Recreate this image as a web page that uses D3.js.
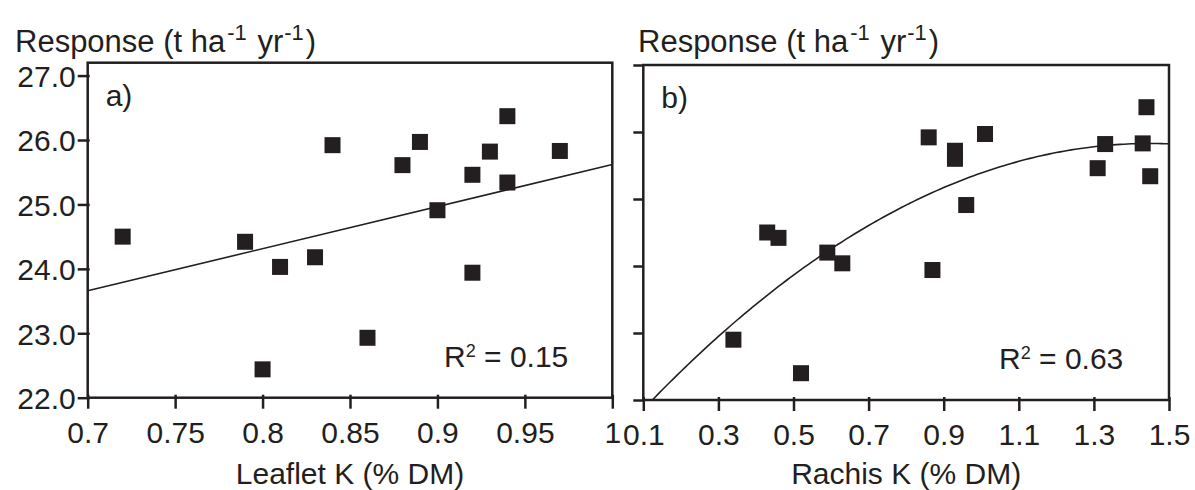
<!DOCTYPE html>
<html><head><meta charset="utf-8">
<script src="https://cdn.jsdelivr.net/npm/d3@7"></script>
<style>
html,body{margin:0;padding:0;background:#fff;}
svg text{font-family:"Liberation Sans",Arial,sans-serif;fill:#231f20;}
</style></head>
<body><svg id="chart" width="1195" height="490"></svg>
<script>
// ---- data ----
const leafletK   = [0.72, 0.79, 0.80, 0.81, 0.83, 0.84, 0.86, 0.88, 0.89, 0.90, 0.92, 0.92, 0.93, 0.94, 0.94, 0.97];
const responseA  = [24.50, 24.42, 22.44, 24.03, 24.18, 25.92, 22.93, 25.61, 25.97, 24.91, 25.46, 23.94, 25.82, 26.37, 25.34, 25.83];
const rachisK    = [0.34, 0.43, 0.46, 0.52, 0.59, 0.63, 0.86, 0.87, 0.93, 0.93, 0.96, 1.01, 1.31, 1.33, 1.43, 1.44, 1.45];
const responseB  = [22.90, 24.50, 24.42, 22.40, 24.20, 24.04, 25.92, 23.94, 25.72, 25.60, 24.91, 25.97, 25.46, 25.82, 25.83, 26.37, 25.34];
const trendA     = [[0.7, 23.66], [1.0, 25.62]];          // linear fit endpoints
const curveB     = [21.25, 6.316, -2.178];                 // quadratic fit: a + b x + c x^2
const yTicks     = [22, 23, 24, 25, 26, 27];
const yTickLabels= ["22.0", "23.0", "24.0", "25.0", "26.0", "27.0"];
const xTicksA    = [0.7, 0.75, 0.8, 0.85, 0.9, 0.95, 1.0];
const xTickLabelsA = ["0.7", "0.75", "0.8", "0.85", "0.9", "0.95", "1"];
const xTicksB    = [0.1, 0.3, 0.5, 0.7, 0.9, 1.1, 1.3, 1.5];
const xTickLabelsB = ["0.1", "0.3", "0.5", "0.7", "0.9", "1.1", "1.3", "1.5"];
const xTitleA = "Leaflet K (% DM)";
const xTitleB = "Rachis K (% DM)";
const r2A = "0.15", r2B = "0.63";

const svg = d3.select("#chart");
const ink = "#231f20";
const FS = 30;

function panel(opt){
  const g = svg.append("g");
  const x = d3.scaleLinear().domain(opt.xDomain).range([opt.left, opt.right]);
  const y = d3.scaleLinear().domain(opt.yDomain).range([opt.bottom, opt.top]);

  // y axis
  const ya = g.append("g").attr("transform", `translate(${opt.left},0)`)
    .call(d3.axisLeft(y).tickValues(yTicks).tickSizeInner(10).tickSizeOuter(0)
      .tickFormat((d,i)=> opt.yLabels ? yTickLabels[i] : ""));
  ya.select(".domain").remove();
  ya.selectAll(".tick line").attr("stroke", ink).attr("stroke-width", 2.5).attr("x2", -10).attr("x1", opt.yLabels ? 2 : 0);
  ya.selectAll(".tick text").attr("x", -12).attr("dy", "0.36em")
    .style("font-size", FS+"px").attr("fill", ink);

  // x axis
  const xa = g.append("g").attr("transform", `translate(0,${opt.bottom})`)
    .call(d3.axisBottom(x).tickValues(opt.xTicks).tickSizeInner(10).tickSizeOuter(0)
      .tickFormat((d,i)=> opt.xLabels[i]));
  xa.select(".domain").remove();
  xa.selectAll(".tick line").attr("stroke", ink).attr("stroke-width", 2.5).attr("y1", -3).attr("y2", 11);
  xa.selectAll(".tick text").attr("y", 45).attr("dy", 0)
    .style("font-size", FS+"px").attr("fill", ink);

  // frame
  g.append("rect").attr("x", opt.left).attr("y", opt.top)
    .attr("width", opt.right-opt.left).attr("height", opt.bottom-opt.top)
    .attr("fill", "none").attr("stroke", ink).attr("stroke-width", 2.5);

  // clip
  const cid = "clip"+opt.id;
  svg.append("clipPath").attr("id", cid).append("rect")
    .attr("x", opt.left).attr("y", opt.top).attr("width", opt.right-opt.left).attr("height", opt.bottom-opt.top);

  // fit line
  g.append("path").attr("clip-path", `url(#${cid})`)
    .attr("d", d3.line().x(d=>x(d[0])).y(d=>y(d[1]))(opt.fit))
    .attr("fill", "none").attr("stroke", ink).attr("stroke-width", 1.6);

  // points
  const s = 16;
  g.selectAll("rect.pt").data(opt.xs.map((v,i)=>[v, opt.ys[i]])).enter().append("rect")
    .attr("class","pt")
    .attr("x", d=>x(d[0])-s/2).attr("y", d=>y(d[1])-s/2)
    .attr("width", s).attr("height", s).attr("fill", ink);

  // panel letter
  g.append("text").attr("x", opt.left+18).attr("y", opt.top+43)
    .style("font-size", FS+"px").text(opt.letter);

  // R2
  const t = g.append("text").attr("x", opt.r2x).attr("y", opt.bottom-31).style("font-size", FS+"px");
  t.append("tspan").text("R");
  t.append("tspan").attr("dy", -10).style("font-size", "18px").text("2");
  t.append("tspan").attr("dy", 10).text(" = " + opt.r2);

  // y title
  const yt = g.append("text").attr("x", opt.titleX).attr("y", 52).style("font-size", "31px");
  yt.append("tspan").text("Response (t ha");
  yt.append("tspan").attr("dy", -12).attr("dx", 2).style("font-size", "22px").text("-1");
  yt.append("tspan").attr("dy", 12).attr("dx", 2).text(" yr");
  yt.append("tspan").attr("dy", -12).attr("dx", 1).style("font-size", "22px").text("-1");
  yt.append("tspan").attr("dy", 12).attr("dx", 2).text(")");

  // x title
  g.append("text").attr("x", (opt.left+opt.right)/2).attr("y", 484)
    .attr("text-anchor","middle").style("font-size", FS+"px").text(opt.xTitle);
}

panel({id:"a", left:87.7, right:612.3, top:62.7, bottom:397.7,
  xDomain:[0.7,1.0], yDomain:[22,27.2], xTicks:xTicksA, xLabels:xTickLabelsA, yLabels:true,
  xs:leafletK, ys:responseA, fit:trendA, letter:"a)", r2:r2A, r2x:444, titleX:15, xTitle:xTitleA});

const curvePts = d3.range(0.1, 1.5001, 0.01).map(v=>[v, curveB[0]+curveB[1]*v+curveB[2]*v*v]);
panel({id:"b", left:643.3, right:1169, top:65, bottom:400,
  xDomain:[0.1,1.5], yDomain:[22,27], xTicks:xTicksB, xLabels:xTickLabelsB, yLabels:false,
  xs:rachisK, ys:responseB, fit:curvePts, letter:"b)", r2:r2B, r2x:999, titleX:638, xTitle:xTitleB});
</script>
</body></html>
